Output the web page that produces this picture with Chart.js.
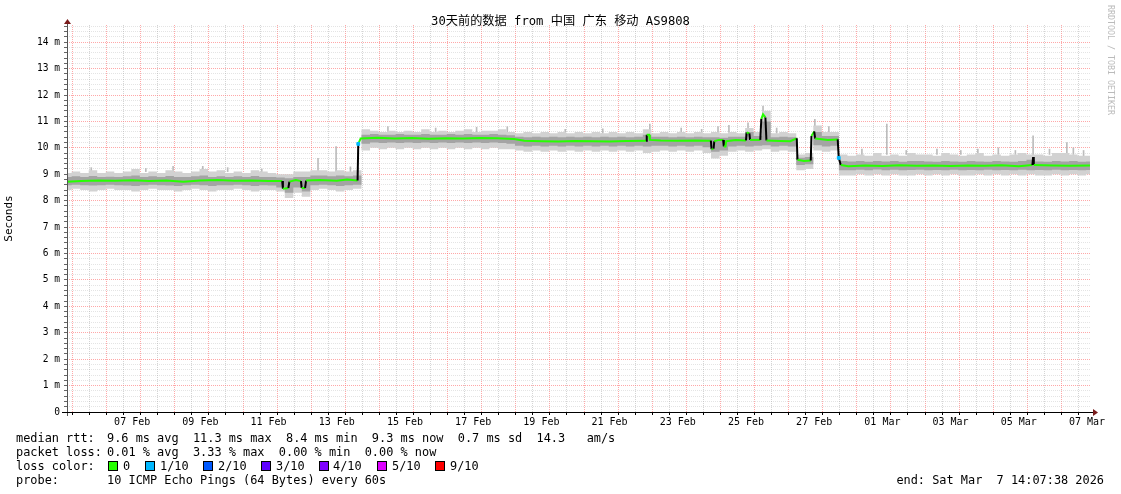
<!DOCTYPE html>
<html>
<head>
<meta charset="utf-8">
<script src="https://cdn.jsdelivr.net/npm/chart.js@4/dist/chart.umd.min.js"></script>
<style>
  body { margin: 0; background: #fff; }
  #wrap { position: relative; width: 1121px; height: 494px; overflow: hidden; }
  canvas { position: absolute; left: 0; top: 0; }
  .txt { position: absolute; font-family: 'DejaVu Sans Mono', monospace; font-size: 11.9px; line-height: 14px; white-space: pre; color: #000; }
  #title { position: absolute; left: 0; width: 1121px; top: 13px; text-align: center; font-family: 'DejaVu Sans Mono', 'Noto Sans CJK SC', monospace; font-size: 12.2px; line-height: 16px; white-space: pre; color: #000; }
  #wm { position: absolute; left: 1106px; top: 5px; writing-mode: vertical-rl; font-family: 'DejaVu Sans Mono', monospace; font-size: 8.3px; color: #bbb; white-space: pre; }
  .box { position: absolute; top: 461px; width: 8px; height: 8px; border: 1px solid #000; }
</style>
</head>
<body>
<div id="wrap">
  <canvas id="c" width="1121" height="494"></canvas>
  <div id="title">30天前的数据 from 中国 广东 移动 AS9808</div>
  <div id="wm">RRDTOOL / TOBI OETIKER</div>

  <div class="txt" style="left:16px;top:431px">median rtt:</div>
  <div class="txt" style="left:107px;top:431px">9.6 ms avg  11.3 ms max  8.4 ms min  9.3 ms now  0.7 ms sd  14.3   am/s</div>
  <div class="txt" style="left:16px;top:445px">packet loss:</div>
  <div class="txt" style="left:107px;top:445px">0.01 % avg  3.33 % max  0.00 % min  0.00 % now</div>
  <div class="txt" style="left:16px;top:459px">loss color:</div>
  <div id="legend"></div>
  <div class="txt" style="left:16px;top:473px">probe:</div>
  <div class="txt" style="left:107px;top:473px">10 ICMP Echo Pings (64 Bytes) every 60s</div>
  <div class="txt" style="right:17px;top:473px">end: Sat Mar  7 14:07:38 2026</div>
</div>
<script>
// time axis: days since 05 Feb 00:00 (start 05 Feb 14:07:38, end 07 Mar 14:07:38)
const tStart = 0.5886;
const tEnd = 30.5886;

// median rtt (ms), time in days
const medT = [0.59, 1.0, 1.5, 2.0, 2.5, 3.0, 3.5, 4.0, 4.5, 5.0,
              5.5, 6.0, 6.5, 6.9, 6.92, 7.08, 7.11, 7.3, 7.45, 7.47,
              7.57, 7.6, 8.0, 8.5, 8.8, 9.11, 9.13, 9.2, 9.7, 10.2,
              10.7, 11.2, 11.7, 12.2, 12.7, 13.2, 13.7, 14.0, 14.5, 15.0,
              15.5, 16.0, 16.5, 17.0, 17.57, 17.59, 17.66, 17.68, 18.0, 18.5,
              19.0, 19.47, 19.49, 19.55, 19.57, 19.7, 19.83, 19.85, 19.9, 19.92,
              20.2, 20.5, 20.52, 20.6, 20.62, 20.92, 20.95, 21.0, 21.07, 21.1,
              21.5, 21.8, 21.99, 22.01, 22.2, 22.4, 22.42, 22.5, 22.53, 22.9,
              23.19, 23.22, 23.28, 23.5, 24.0, 24.5, 25.0, 25.5, 26.0, 26.5,
              27.0, 27.5, 28.0, 28.5, 28.9, 28.92, 28.94, 29.5, 30.0, 30.59];
const medV = [8.72, 8.74, 8.76, 8.75, 8.77, 8.74, 8.76, 8.72, 8.76, 8.78,
              8.75, 8.76, 8.74, 8.74, 8.45, 8.48, 8.72, 8.78, 8.74, 8.48,
              8.48, 8.76, 8.78, 8.75, 8.8, 8.76, 10.15, 10.35, 10.38, 10.35,
              10.37, 10.34, 10.36, 10.35, 10.37, 10.36, 10.33, 10.27, 10.25, 10.24,
              10.26, 10.25, 10.24, 10.26, 10.27, 10.5, 10.5, 10.3, 10.28, 10.27,
              10.28, 10.27, 9.95, 9.97, 10.25, 10.3, 10.3, 10.05, 10.05, 10.25,
              10.3, 10.28, 10.58, 10.55, 10.3, 10.3, 11.1, 11.27, 11.15, 10.28,
              10.26, 10.25, 10.36, 9.55, 9.5, 9.52, 10.45, 10.62, 10.35, 10.3,
              10.32, 9.62, 9.35, 9.3, 9.33, 9.31, 9.34, 9.32, 9.33, 9.31,
              9.33, 9.32, 9.34, 9.3, 9.35, 9.65, 9.35, 9.33, 9.32, 9.33];

// samples with packet loss 1/10
const lossT = [9.13, 23.22];
const lossV = [10.15, 9.62];

// smoke, sampled every 0.25 day from 0.6
const smokeStart = 0.6;
const smokeStep = 0.25;
const smokeHi = [9.05, 9.1, 9.05, 9.15, 9.05, 9.1, 9.05, 9.1, 9.2, 9.05,
                 9.1, 9.05, 9.15, 9.1, 9.05, 9.1, 9.2, 9.1, 9.15, 9.05,
                 9.1, 9.05, 9.15, 9.1, 9.05, 9.0, 9.0, 9.1, 9.1, 9.15,
                 9.15, 9.1, 9.15, 9.1, 9.15, 10.7, 10.65, 10.6, 10.65, 10.6,
                 10.65, 10.6, 10.7, 10.6, 10.65, 10.6, 10.65, 10.7, 10.6, 10.65,
                 10.65, 10.7, 10.6, 10.55, 10.6, 10.55, 10.6, 10.55, 10.6, 10.55,
                 10.6, 10.55, 10.6, 10.55, 10.6, 10.55, 10.6, 10.55, 10.7, 10.55,
                 10.6, 10.55, 10.6, 10.55, 10.6, 10.55, 10.6, 10.55, 10.6, 10.55,
                 10.75, 10.6, 11.4, 10.55, 10.6, 10.55, 9.75, 9.8, 10.85, 10.6,
                 10.6, 9.75, 9.7, 9.75, 9.7, 9.8, 9.7, 9.75, 9.7, 9.8,
                 9.75, 9.75, 9.7, 9.8, 9.75, 9.7, 9.75, 9.8, 9.7, 9.75,
                 9.7, 9.75, 9.8, 9.75, 9.75, 9.7, 9.8, 9.8, 9.75, 9.7, 9.7];
const smokeLo = [8.4, 8.45, 8.4, 8.35, 8.4, 8.45, 8.4, 8.4, 8.35, 8.4,
                 8.45, 8.4, 8.4, 8.35, 8.4, 8.45, 8.4, 8.35, 8.4, 8.4,
                 8.45, 8.4, 8.35, 8.4, 8.4, 8.35, 8.1, 8.3, 8.15, 8.4,
                 8.45, 8.4, 8.35, 8.4, 8.45, 9.9, 10.0, 9.95, 10.0, 9.95,
                 10.0, 9.95, 10.0, 9.95, 10.0, 9.95, 10.0, 9.95, 10.0, 9.95,
                 10.0, 9.95, 9.95, 9.9, 9.85, 9.9, 9.85, 9.9, 9.85, 9.9,
                 9.85, 9.9, 9.85, 9.9, 9.85, 9.9, 9.85, 9.9, 9.8, 9.85,
                 9.9, 9.85, 9.9, 9.85, 9.9, 9.8, 9.6, 9.7, 9.85, 9.9,
                 9.85, 9.9, 9.95, 9.85, 9.9, 9.85, 9.15, 9.2, 9.9, 9.85,
                 9.9, 8.95, 8.95, 9.0, 8.95, 9.0, 8.95, 9.0, 8.95, 8.95,
                 9.0, 8.95, 9.0, 8.95, 9.0, 8.95, 8.95, 9.0, 8.95, 9.0,
                 8.95, 9.0, 8.95, 9.0, 8.95, 8.95, 9.0, 8.95, 9.0, 8.95, 9.0];
const coreHi = [8.9, 8.92, 8.9, 8.93, 8.9, 8.91, 8.9, 8.92, 8.95, 8.9,
                8.92, 8.9, 8.93, 8.9, 8.9, 8.92, 8.95, 8.9, 8.92, 8.9,
                8.92, 8.9, 8.93, 8.9, 8.9, 8.88, 8.85, 8.9, 8.9, 8.95,
                8.95, 8.92, 8.95, 8.92, 8.95, 10.5, 10.52, 10.5, 10.5, 10.52,
                10.5, 10.5, 10.52, 10.5, 10.5, 10.52, 10.5, 10.52, 10.5, 10.5,
                10.52, 10.5, 10.48, 10.42, 10.4, 10.42, 10.4, 10.42, 10.4, 10.42,
                10.4, 10.42, 10.4, 10.42, 10.4, 10.42, 10.4, 10.42, 10.5, 10.42,
                10.42, 10.4, 10.42, 10.4, 10.42, 10.4, 10.4, 10.38, 10.42, 10.42,
                10.6, 10.45, 11.0, 10.4, 10.42, 10.4, 9.62, 9.65, 10.6, 10.45,
                10.45, 9.5, 9.48, 9.5, 9.47, 9.5, 9.48, 9.5, 9.47, 9.5,
                9.5, 9.48, 9.47, 9.5, 9.48, 9.47, 9.5, 9.48, 9.47, 9.5,
                9.48, 9.47, 9.5, 9.55, 9.48, 9.47, 9.5, 9.48, 9.5, 9.47, 9.48];
const coreLo = [8.58, 8.6, 8.58, 8.57, 8.58, 8.6, 8.58, 8.57, 8.56, 8.58,
                8.6, 8.58, 8.57, 8.56, 8.58, 8.6, 8.58, 8.56, 8.58, 8.58,
                8.6, 8.58, 8.56, 8.58, 8.57, 8.5, 8.3, 8.5, 8.35, 8.58,
                8.6, 8.58, 8.56, 8.58, 8.6, 10.15, 10.2, 10.18, 10.2, 10.18,
                10.2, 10.18, 10.2, 10.18, 10.2, 10.18, 10.2, 10.18, 10.2, 10.18,
                10.2, 10.18, 10.15, 10.08, 10.05, 10.08, 10.05, 10.08, 10.05, 10.08,
                10.05, 10.08, 10.05, 10.08, 10.05, 10.08, 10.05, 10.08, 10.05, 10.08,
                10.08, 10.05, 10.08, 10.05, 10.08, 10.02, 9.85, 9.9, 10.05, 10.08,
                10.05, 10.08, 10.1, 10.05, 10.08, 10.05, 9.35, 9.38, 10.1, 10.05,
                10.08, 9.15, 9.15, 9.17, 9.15, 9.18, 9.15, 9.17, 9.15, 9.16,
                9.17, 9.15, 9.16, 9.15, 9.17, 9.15, 9.16, 9.15, 9.17, 9.15,
                9.16, 9.15, 9.17, 9.15, 9.16, 9.15, 9.17, 9.15, 9.16, 9.15, 9.16];

// single outlier pings
const spikeT = [1.3, 2.9, 3.7, 4.57, 5.3, 6.3, 7.95, 8.48, 8.9,
                10.0, 11.4, 12.6, 13.5, 15.2, 16.3, 17.68, 18.6, 19.2, 19.68,
                20.0, 20.56, 21.0, 21.4, 22.52, 22.93,
                23.9, 24.63, 25.2, 26.1, 26.8, 27.3, 27.9, 28.4, 28.92, 29.4, 29.91, 30.1, 30.4];
const spikeLo = [9.1, 9.1, 9.1, 9.05, 9.1, 9.1, 9.05, 9.1, 9.1,
                 10.6, 10.6, 10.6, 10.6, 10.55, 10.55, 10.6, 10.55, 10.55, 10.55,
                 10.55, 10.6, 10.8, 10.55, 10.8, 10.6,
                 9.7, 9.75, 9.75, 9.75, 9.75, 9.75, 9.75, 9.75, 9.7, 9.75, 9.75, 9.75, 9.7];
const spikeHi = [9.25, 9.22, 9.3, 9.3, 9.25, 9.2, 9.6, 10.05, 9.28,
                 10.8, 10.75, 10.78, 10.8, 10.7, 10.72, 10.9, 10.75, 10.7, 10.8,
                 10.85, 10.95, 11.58, 10.75, 11.08, 10.8,
                 9.95, 10.9, 9.9, 9.95, 9.9, 9.95, 10.0, 9.9, 10.45, 9.95, 10.2, 10.0, 9.9];

// legend
const lossLabels = ['0', '1/10', '2/10', '3/10', '4/10', '5/10', '9/10'];
const lossColors = ['#26ff00', '#00b8ff', '#0059ff', '#5e00ff', '#7e00ff', '#dd00ff', '#ff0000'];
const lossBoxX = [108, 145, 203, 261, 319, 377, 435];
const lossTextX = [123, 160, 218, 276, 333, 392, 450];

const legend = document.getElementById('legend');
lossLabels.forEach((lab, i) => {
    const b = document.createElement('div');
    b.className = 'box';
    b.style.left = lossBoxX[i] + 'px';
    b.style.background = lossColors[i];
    legend.appendChild(b);
    const t = document.createElement('div');
    t.className = 'txt';
    t.style.left = lossTextX[i] + 'px';
    t.style.top = '459px';
    t.textContent = lab;
    legend.appendChild(t);
});

const smokePts = arr => arr.map((v, i) => ({x: smokeStart + i * smokeStep, y: v}));

const xGrid = [];
for (let d = 1; d <= 30.5; d += 0.5) xGrid.push(d);

function dayLabel(v) {
    if (Math.abs(v % 1 - 0.5) > 1e-6) return '';
    const d = Math.floor(v);
    if (d % 2 !== 0) return '';
    const pad = n => (n < 10 ? '0' : '') + n;
    return d < 24 ? pad(5 + d) + ' Feb' : pad(d - 23) + ' Mar';
}

const isWhole = v => Math.abs(v - Math.round(v)) < 1e-6;
const majorGrid = 'rgba(255,110,110,0.6)';
const minorGrid = 'rgba(170,170,170,0.32)';

const axisArrows = {
    id: 'axisArrows',
    afterDraw(chart) {
        const {ctx, chartArea: a} = chart;
        ctx.save();
        ctx.lineWidth = 1;
        ctx.strokeStyle = '#555';
        ctx.beginPath();
        ctx.moveTo(a.left + 0.5, a.bottom + 4);
        ctx.lineTo(a.left + 0.5, a.top - 2);
        ctx.stroke();
        ctx.strokeStyle = '#000';
        ctx.beginPath();
        ctx.moveTo(a.left - 5, a.bottom + 0.5);
        ctx.lineTo(a.right + 4, a.bottom + 0.5);
        ctx.stroke();
        ctx.fillStyle = '#7a1c1c';
        ctx.beginPath();
        ctx.moveTo(a.left + 0.5, a.top - 6);
        ctx.lineTo(a.left - 3, a.top - 1);
        ctx.lineTo(a.left + 4, a.top - 1);
        ctx.closePath();
        ctx.fill();
        ctx.beginPath();
        ctx.moveTo(a.right + 8, a.bottom + 0.5);
        ctx.lineTo(a.right + 3, a.bottom - 3);
        ctx.lineTo(a.right + 3, a.bottom + 4);
        ctx.closePath();
        ctx.fill();
        ctx.restore();
    }
};

Chart.defaults.font.family = 'DejaVu Sans Mono';
Chart.defaults.color = '#000';

const data = {
    datasets: [
        {
            data: smokePts(smokeHi),
            fill: '+1',
            backgroundColor: '#d2d2d2',
            borderColor: 'transparent',
            borderWidth: 0,
            pointRadius: 0,
            stepped: 'middle',
            order: 5,
        },
        {
            data: smokePts(smokeLo),
            fill: false,
            borderColor: 'transparent',
            borderWidth: 0,
            pointRadius: 0,
            stepped: 'middle',
            order: 5,
        },
        {
            data: smokePts(coreHi),
            fill: '+1',
            backgroundColor: '#a4a4a4',
            borderColor: 'transparent',
            borderWidth: 0,
            pointRadius: 0,
            stepped: 'middle',
            order: 4,
        },
        {
            data: smokePts(coreLo),
            fill: false,
            borderColor: 'transparent',
            borderWidth: 0,
            pointRadius: 0,
            stepped: 'middle',
            order: 4,
        },
        {
            type: 'bar',
            data: spikeT.map((t, i) => ({x: t, y: [spikeLo[i], spikeHi[i]]})),
            backgroundColor: '#bcbcbc',
            barThickness: 1,
            order: 6,
        },
        {
            data: medT.map((t, i) => ({x: t, y: medV[i]})),
            fill: false,
            borderColor: '#26ff00',
            borderWidth: 2,
            pointRadius: 0,
            segment: {
                borderColor: c => Math.abs(c.p0.parsed.y - c.p1.parsed.y) > 0.2 ? '#000' : '#26ff00',
            },
            order: 2,
        },
        {
            data: lossT.map((t, i) => ({x: t, y: lossV[i]})),
            showLine: false,
            pointStyle: 'rect',
            pointRadius: 2,
            backgroundColor: '#00b8ff',
            borderColor: '#00b8ff',
            order: 1,
        },
    ]
};

const config = {
    type: 'line',
    data,
    plugins: [axisArrows],
    options: {
        responsive: false,
        animation: false,
        layout: {
            padding: {left: 0, top: 25, right: 31, bottom: 0}
        },
        plugins: {
            legend: {display: false},
            tooltip: {enabled: false},
        },
        scales: {
            x: {
                type: 'linear',
                min: tStart,
                max: tEnd,
                offset: false,
                afterBuildTicks: s => { s.ticks = xGrid.map(v => ({value: v})); },
                afterFit: s => { s.height = 82; },
                grid: {
                    color: c => (c.tick && isWhole(c.tick.value)) ? majorGrid : 'rgba(170,170,170,0.5)',
                    tickLength: 3,
                    tickColor: '#000',
                },
                border: {display: false, dash: [1, 1]},
                ticks: {
                    autoSkip: false,
                    maxRotation: 0,
                    padding: 1,
                    font: {size: 10},
                    callback: v => dayLabel(v),
                },
            },
            y: {
                min: 0,
                max: 14.65,
                afterFit: s => { s.width = 67; },
                grid: {
                    color: c => (c.tick && isWhole(c.tick.value)) ? majorGrid : minorGrid,
                    tickLength: 3,
                    tickColor: '#666',
                },
                border: {display: false, dash: [1, 1]},
                ticks: {
                    stepSize: 0.2,
                    includeBounds: false,
                    autoSkip: false,
                    padding: 4,
                    font: {size: 9.6},
                    callback: function(value) {
                        if (!isWhole(value)) return '';
                        const n = Math.round(value);
                        return n === 0 ? '0' : n + ' m';
                    }
                },
                title: {
                    display: true,
                    text: 'Seconds',
                    font: {size: 11},
                    padding: {top: 3, bottom: 0},
                },
            },
        },
    }
};

new Chart(document.getElementById('c'), config);
</script>
</body>
</html>
